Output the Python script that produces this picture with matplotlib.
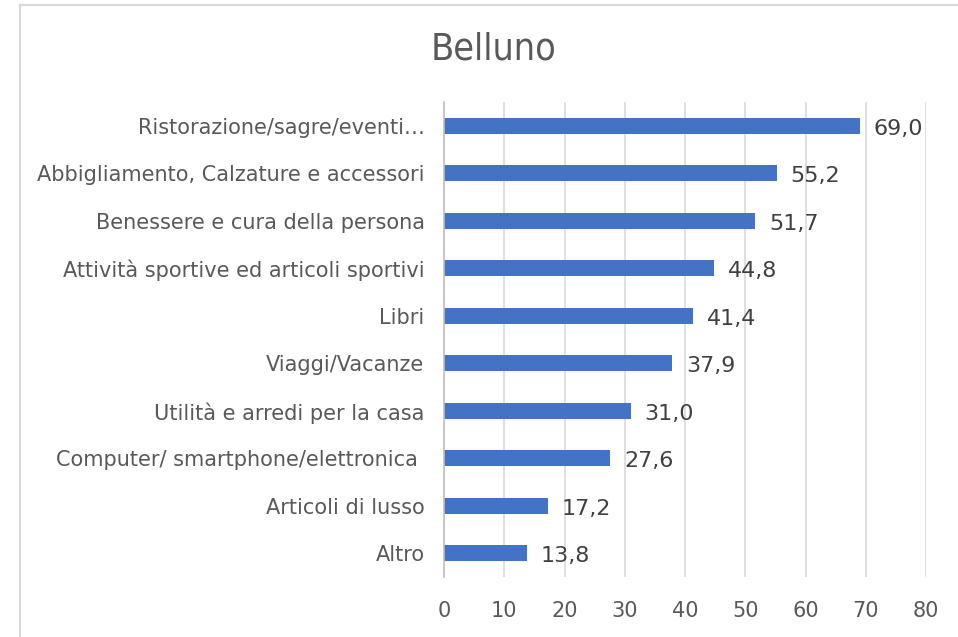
import matplotlib
matplotlib.use("Agg")
import matplotlib.pyplot as plt
from matplotlib.patches import Rectangle

categories = [
    "Ristorazione/sagre/eventi…",
    "Abbigliamento, Calzature e accessori",
    "Benessere e cura della persona",
    "Attività sportive ed articoli sportivi",
    "Libri",
    "Viaggi/Vacanze",
    "Utilità e arredi per la casa",
    "Computer/ smartphone/elettronica ",
    "Articoli di lusso",
    "Altro",
]
values = [69.0, 55.2, 51.7, 44.8, 41.4, 37.9, 31.0, 27.6, 17.2, 13.8]
xticks = [0, 10, 20, 30, 40, 50, 60, 70, 80]

W, H = 958, 637
fig = plt.figure(figsize=(W / 100, H / 100), dpi=100)
fig.patch.set_facecolor("white")

# chart frame (partially visible)
fig.add_artist(Rectangle((20 / W, -0.1), 1.2, (H - 5) / H + 0.1, transform=fig.transFigure,
                         fill=False, edgecolor="#d9d9d9", linewidth=1.5))

left, right = 444 / W, 926 / W
top, bottom = 1 - 102 / H, 1 - 577 / H
ax = fig.add_axes([left, bottom, right - left, top - bottom])

txt = "#595959"
font = "DejaVu Sans"
n = len(categories)
ypos = list(range(n))
ax.barh(ypos, values, height=0.34, color="#4472c4", zorder=3)
ax.set_ylim(n - 0.5, -0.5)
ax.set_xlim(0, 80)
ax.set_xticks(xticks)
ax.set_xticklabels([str(t) for t in xticks], fontsize=15, color=txt, family=font)
ax.set_yticks(ypos)
ax.set_yticklabels(categories, fontsize=15, color=txt, family=font)
ax.tick_params(axis="both", length=0)
ax.tick_params(axis="x", pad=17)
ax.tick_params(axis="y", pad=14)
ax.grid(axis="x", color="#d9d9d9", linewidth=1.2, zorder=0)
for s in ["top", "right", "bottom"]:
    ax.spines[s].set_visible(False)
ax.spines["left"].set_color("#bfbfbf")
ax.spines["left"].set_linewidth(1.2)
ax.spines["left"].set_zorder(4)

for y, v in zip(ypos, values):
    ax.annotate(f"{v:.1f}".replace(".", ","), xy=(v, y), xytext=(10, -2),
                textcoords="offset points", va="center", ha="left",
                fontsize=16, color="#404040", family=font)

fig.text(493 / W, 1 - 50 / H, "Belluno", ha="center", va="center", fontsize=27,
         color=txt, family="DejaVu Sans", fontstretch="condensed")

fig.savefig("out.png", dpi=100)
